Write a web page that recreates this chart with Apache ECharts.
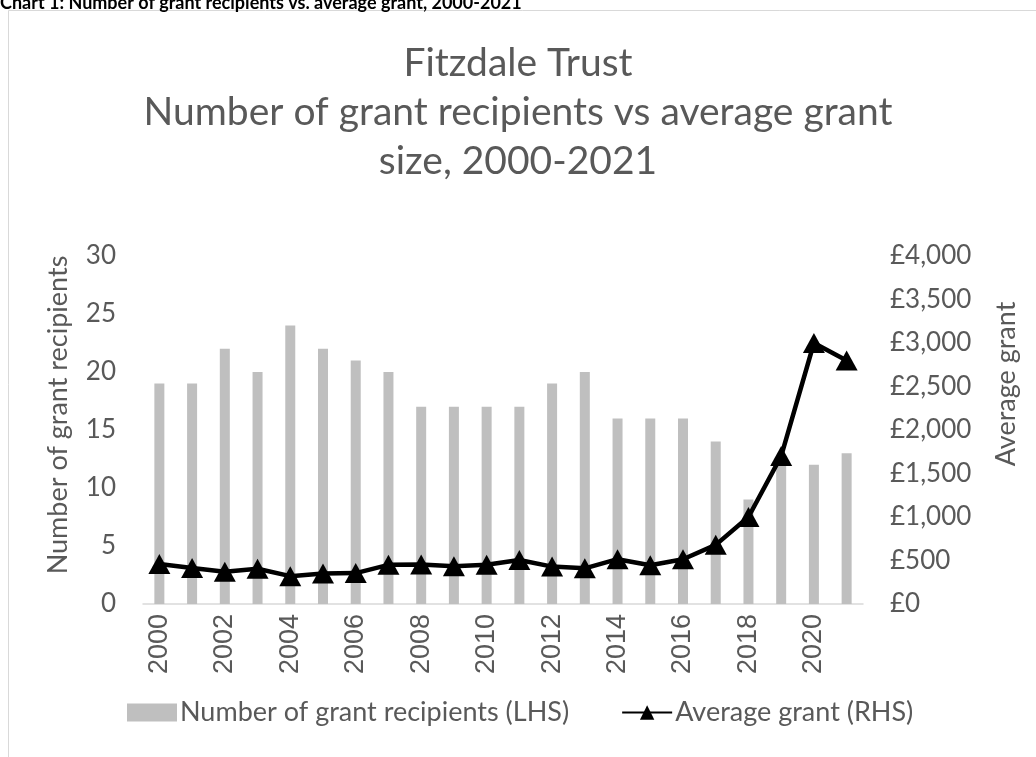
<!DOCTYPE html>
<html>
<head>
<meta charset="utf-8">
<script src="https://cdn.jsdelivr.net/npm/echarts@6/dist/echarts.min.js"></script>
<style>
html,body{margin:0;padding:0;background:#fff;}
#chart{width:1036px;height:757px;}
</style>
</head>
<body>
<div id="chart"></div>
<script>
var years = ['2000','2001','2002','2003','2004','2005','2006','2007','2008','2009','2010','2011','2012','2013','2014','2015','2016','2017','2018','2019','2020','2021'];
var recipients = [19,19,22,20,24,22,21,20,17,17,17,17,19,20,16,16,16,14,9,12,12,13];
var avgGrant = [460,415,370,405,320,350,355,450,455,435,450,505,430,410,515,445,515,680,1000,1700,3000,2800];
var leftTicks = [0,5,10,15,20,25,30];
var rightTicks = [0,500,1000,1500,2000,2500,3000,3500,4000];
var headerText = 'Chart 1: Number of grant recipients vs. average grant, 2000-2021';
var titleText = 'Fitzdale Trust\nNumber of grant recipients vs average grant\nsize, 2000-2021';
var seriesNames = ['Number of grant recipients (LHS)', 'Average grant (RHS)'];
var axisNames = ['Number of grant recipients', 'Average grant'];

var FONT = 'Lato, "Open Sans", sans-serif';
var GREY = '#595959';
var chart = echarts.init(document.getElementById('chart'), null, {renderer:'canvas'});
chart.setOption({
  animation: false,
  backgroundColor: '#fff',
  graphic: [
    {type:'rect', z:-10, shape:{x:8.5,y:10.5,width:1100,height:800}, style:{fill:'#fff', stroke:'#d9d9d9', lineWidth:1}},
    {type:'text', left:0, top:-6, style:{text:headerText, font:'bold 18px ' + FONT, fill:'#000'}},
    {type:'text', x:58, y:415, rotation:Math.PI/2,
     style:{text:axisNames[0], font:'27px ' + FONT, fill:GREY, align:'center', verticalAlign:'middle'}},
    {type:'text', x:1006, y:384, rotation:Math.PI/2,
     style:{text:axisNames[1], font:'27px ' + FONT, fill:GREY, align:'center', verticalAlign:'middle'}}
  ],
  title: {
    text: titleText,
    left: 'center',
    top: 34,
    textStyle: {fontFamily: FONT, fontSize: 39, fontWeight: 'normal', color: GREY, lineHeight: 49}
  },
  legend: {
    top: 694,
    left: 122,
    itemGap: 52,
    itemWidth: 50,
    itemHeight: 18,
    textStyle: {fontFamily: FONT, fontSize: 27, color: GREY, padding: [0, 0, 0, -2]},
    data: [
      {name: seriesNames[0], icon: 'rect'},
      {name: seriesNames[1]}
    ]
  },
  grid: {left: 143, right: 173, top: 256, bottom: 153, containLabel: false},
  xAxis: {
    type: 'category',
    data: years,
    axisLine: {lineStyle: {color: '#d9d9d9', width: 1.5}},
    axisTick: {show: false},
    axisLabel: {
      interval: 1,
      rotate: 90,
      margin: 10,
      fontFamily: '"Liberation Sans", Arial, sans-serif',
      fontSize: 27,
      color: GREY
    }
  },
  yAxis: [
    {
      type: 'value',
      min: leftTicks[0], max: leftTicks[leftTicks.length-1], interval: 5,
      axisLine: {show: false}, axisTick: {show: false}, splitLine: {show: false},
      axisLabel: {fontFamily: FONT, fontSize: 26, color: GREY, margin: 27}
    },
    {
      type: 'value',
      min: rightTicks[0], max: rightTicks[rightTicks.length-1], interval: 500,
      axisLine: {show: false}, axisTick: {show: false}, splitLine: {show: false},
      axisLabel: {
        fontFamily: FONT, fontSize: 26, color: GREY, margin: 27,
        formatter: function(v){ return '£' + v.toLocaleString('en-GB'); }
      }
    }
  ],
  series: [
    {
      name: seriesNames[0],
      type: 'bar',
      data: recipients,
      yAxisIndex: 0,
      barWidth: 10,
      itemStyle: {color: '#bfbfbf'}
    },
    {
      name: seriesNames[1],
      type: 'line',
      data: avgGrant,
      yAxisIndex: 1,
      symbol: 'triangle',
      symbolSize: [22, 20],
      lineStyle: {color: '#000', width: 4.5},
      itemStyle: {color: '#000'},
      z: 5
    }
  ]
});
</script>
</body>
</html>
